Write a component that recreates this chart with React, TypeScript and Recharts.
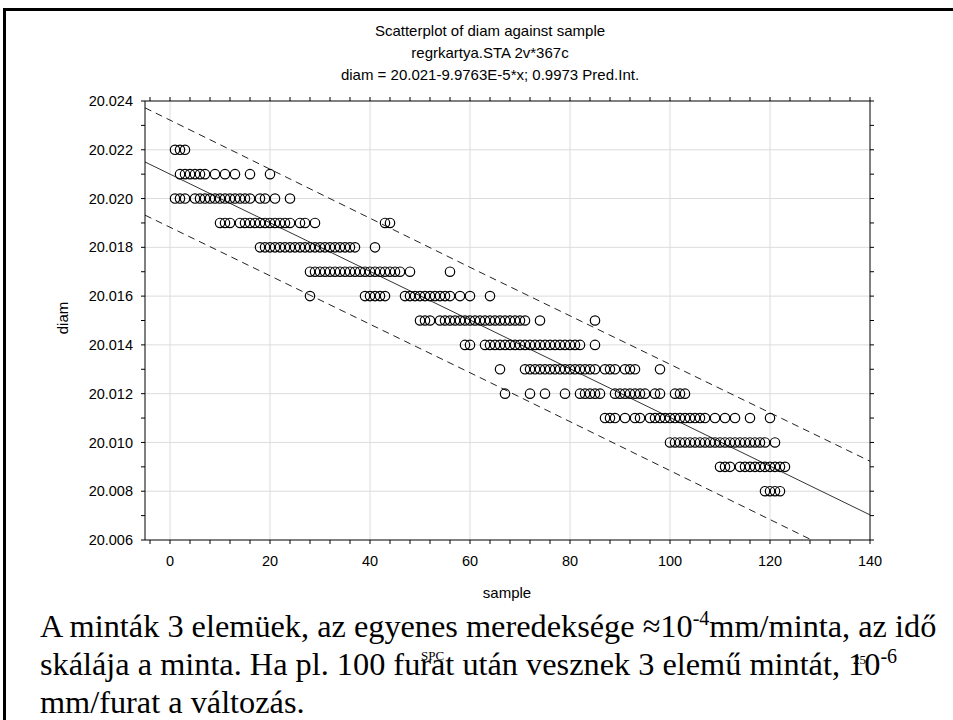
import React from "react";
import {
  ComposedChart,
  Scatter,
  Line,
  XAxis,
  YAxis,
  CartesianGrid,
} from "recharts";

// ---- data ----
const diamLevels = [
  20.022, 20.021, 20.02, 20.019, 20.018, 20.017, 20.016, 20.015, 20.014,
  20.013, 20.012, 20.011, 20.01, 20.009, 20.008,
];
const s22 = [1, 2, 3];
const s21 = [2, 3, 4, 5, 6, 7, 9, 11, 13, 16, 20];
const s20 = [1, 2, 3, 5, 6, 7, 8, 9, 10, 11, 12, 13, 14, 15, 16, 18, 19, 21, 24];
const s19 = [10, 11, 12, 14, 15, 16, 17, 18, 19, 20, 21, 22, 23, 24, 26, 27, 29, 43, 44];
const s18 = [18, 19, 20, 21, 22, 23, 24, 25, 26, 27, 28, 29, 30, 31, 32, 33, 34, 35, 36, 37, 41];
const s17 = [28, 29, 30, 31, 32, 33, 34, 35, 36, 37, 38, 39, 40, 41, 42, 43, 44, 45, 46, 48, 56];
const s16 = [28, 39, 40, 41, 42, 43, 47, 48, 49, 50, 51, 52, 53, 54, 55, 56, 58, 60, 64];
const s15 = [50, 51, 52, 54, 55, 56, 57, 58, 59, 60, 61, 62, 63, 64, 65, 66, 67, 68, 69, 70, 71, 74, 85];
const s14 = [59, 60, 63, 64, 65, 66, 67, 68, 69, 70, 71, 72, 73, 74, 75, 76, 77, 78, 79, 80, 81, 82, 85];
const s13 = [66, 71, 72, 73, 74, 75, 76, 77, 78, 79, 80, 81, 82, 83, 84, 85, 87, 88, 89, 91, 92, 93, 98];
const s12 = [67, 72, 75, 79, 82, 83, 84, 85, 86, 89, 90, 91, 92, 93, 94, 95, 97, 98, 101, 102, 103];
const s11 = [87, 88, 89, 91, 93, 94, 96, 97, 98, 99, 100, 101, 102, 103, 104, 105, 106, 107, 109, 111, 113, 116, 120];
const s10 = [100, 101, 102, 103, 104, 105, 106, 107, 108, 109, 110, 111, 112, 113, 114, 115, 116, 117, 118, 119, 121];
const s9 = [110, 111, 112, 114, 115, 116, 117, 118, 119, 120, 121, 122, 123];
const s8 = [119, 120, 121, 122];
const samplesByLevel = [s22, s21, s20, s19, s18, s17, s16, s15, s14, s13, s12, s11, s10, s9, s8];

// regression line and 0.9973 prediction interval (read at x = -5, 62, 140)
const bandX = [-5, 62, 140];
const fitY = [20.0215, 20.01482, 20.00703];
const upperY = [20.02372, 20.01698, 20.00923];
const lowerY = [20.01932, 20.01266, 20.00483];

const xTicks = [-4, 0, 4, 8, 12, 16, 20, 24, 28, 32, 36, 40, 44, 48, 52, 56, 60, 64, 68, 72, 76, 80, 84, 88, 92, 96, 100, 104, 108, 112, 116, 120, 124, 128, 132, 136, 140];
const xMajor = [0, 20, 40, 60, 80, 100, 120];
const yTicks = [20.006, 20.007, 20.008, 20.009, 20.01, 20.011, 20.012, 20.013, 20.014, 20.015, 20.016, 20.017, 20.018, 20.019, 20.02, 20.021, 20.022, 20.023, 20.024];
const yMajor = [20.008, 20.01, 20.012, 20.014, 20.016, 20.018, 20.02, 20.022];

const titleLines = [
  "Scatterplot of diam against sample",
  "regrkartya.STA 2v*367c",
  "diam = 20.021-9.9763E-5*x; 0.9973 Pred.Int.",
];

// ---- tables built from the arrays ----
const points = diamLevels.flatMap((d, i) =>
  samplesByLevel[i].map((s) => ({ x: s, y: d }))
);
const fitData = bandX.map((x, i) => ({ x, y: fitY[i] }));
const upperData = bandX.map((x, i) => ({ x, y: upperY[i] }));
const lowerData = bandX.map((x, i) => ({ x, y: lowerY[i] }));

const SANS = "'Liberation Sans', Arial, sans-serif";
const SERIF = "'Liberation Serif', 'Times New Roman', serif";

const XTick = (props: any) => {
  const { x, y, payload } = props;
  if (Math.round(payload.value) % 20 !== 0) return <g />;
  return (
    <text x={x} y={y} dy="0.71em" textAnchor="middle" fontSize={14.5} fontFamily={SANS} fill="#000">
      {payload.value}
    </text>
  );
};

const YTick = (props: any) => {
  const { x, y, payload } = props;
  if (Math.round(payload.value * 1000) % 2 !== 0) return <g />;
  return (
    <text x={x} y={y} dy="0.355em" textAnchor="end" fontSize={14.5} fontFamily={SANS} fill="#000">
      {payload.value.toFixed(3)}
    </text>
  );
};

const Empty = () => <g />;

const Ring = (props: any) => {
  const { cx, cy } = props;
  if (cx == null || cy == null) return <g />;
  return <circle cx={cx} cy={cy} r={4.7} fill="none" stroke="#000" strokeWidth={1.2} />;
};

export default function App() {
  return (
    <div
      style={{
        position: "fixed",
        left: 0,
        top: 0,
        width: 953,
        height: 720,
        background: "#fff",
        overflow: "hidden",
      }}
    >
      <div
        style={{
          position: "absolute",
          left: 3,
          top: 8,
          width: 960,
          height: 720,
          borderTop: "3px solid #000",
          borderLeft: "3px solid #000",
        }}
      />
      {titleLines.map((t, i) => (
        <div
          key={i}
          style={{
            position: "absolute",
            left: 240,
            width: 500,
            top: 21 + i * 22,
            textAlign: "center",
            fontFamily: SANS,
            fontSize: 15,
            lineHeight: "19px",
            color: "#000",
          }}
        >
          {t}
        </div>
      ))}
      <div style={{ position: "absolute", left: 0, top: 0 }}>
        <ComposedChart
          width={953}
          height={600}
          margin={{ top: 96, right: 73, bottom: 30, left: 85 }}
        >
          <CartesianGrid
            xAxisId="b"
            yAxisId="l"
            stroke="#dcdcdc"
            strokeWidth={1}
            horizontalValues={yMajor}
            verticalValues={xMajor}
          />
          <XAxis
            xAxisId="b"
            type="number"
            dataKey="x"
            domain={[-5, 140]}
            allowDataOverflow
            ticks={xTicks}
            interval={0}
            tick={<XTick />}
            tickSize={4}
            tickMargin={12}
            stroke="#000"
            height={30}
          />
          <XAxis
            xAxisId="t"
            orientation="top"
            type="number"
            dataKey="x"
            domain={[-5, 140]}
            allowDataOverflow
            ticks={xTicks}
            interval={0}
            tick={<Empty />}
            tickSize={4}
            stroke="#000"
            height={5}
          />
          <YAxis
            yAxisId="l"
            type="number"
            dataKey="y"
            domain={[20.006, 20.024]}
            allowDataOverflow
            ticks={yTicks}
            interval={0}
            tick={<YTick />}
            tickSize={4}
            tickMargin={8}
            stroke="#000"
            width={60}
          />
          <YAxis
            yAxisId="r"
            orientation="right"
            type="number"
            dataKey="y"
            domain={[20.006, 20.024]}
            allowDataOverflow
            ticks={yTicks}
            interval={0}
            tick={<Empty />}
            tickSize={4}
            stroke="#000"
            width={10}
          />
          <Line
            data={fitData}
            xAxisId="t"
            yAxisId="r"
            dataKey="y"
            stroke="none"
            dot={false}
            activeDot={false}
            isAnimationActive={false}
            legendType="none"
          />
          <Line
            data={upperData}
            xAxisId="b"
            yAxisId="l"
            dataKey="y"
            type="linear"
            stroke="#222"
            strokeWidth={1}
            strokeDasharray="7 5"
            dot={false}
            activeDot={false}
            isAnimationActive={false}
          />
          <Line
            data={lowerData}
            xAxisId="b"
            yAxisId="l"
            dataKey="y"
            type="linear"
            stroke="#222"
            strokeWidth={1}
            strokeDasharray="7 5"
            dot={false}
            activeDot={false}
            isAnimationActive={false}
          />
          <Line
            data={fitData}
            xAxisId="b"
            yAxisId="l"
            dataKey="y"
            type="linear"
            stroke="#333"
            strokeWidth={1}
            dot={false}
            activeDot={false}
            isAnimationActive={false}
          />
          <Scatter
            data={points}
            xAxisId="b"
            yAxisId="l"
            dataKey="y"
            shape={<Ring />}
            isAnimationActive={false}
          />
        </ComposedChart>
      </div>
      <div
        style={{
          position: "absolute",
          left: 62,
          top: 318,
          transform: "translate(-50%, -50%) rotate(-90deg)",
          fontFamily: SANS,
          fontSize: 15,
          color: "#000",
          whiteSpace: "nowrap",
        }}
      >
        diam
      </div>
      <div
        style={{
          position: "absolute",
          left: 507,
          top: 592,
          transform: "translate(-50%, -50%)",
          fontFamily: SANS,
          fontSize: 15,
          color: "#000",
          whiteSpace: "nowrap",
        }}
      >
        sample
      </div>
      <div
        style={{
          position: "absolute",
          left: 40,
          top: 609,
          width: 910,
          fontFamily: SERIF,
          fontSize: 32.3,
          lineHeight: "34px",
          color: "#000",
          whiteSpace: "nowrap",
        }}
      >
        <div>
          A minták 3 elemüek, az egyenes meredeksége ≈10
          <span style={{ fontSize: "0.62em", position: "relative", top: "-0.6em" }}>-4</span>
          mm/minta, az idő
        </div>
        <div>
          skálája a minta. Ha pl. 100 furat után vesznek 3 elemű mintát, 10
          <span style={{ fontSize: "0.62em", position: "relative", top: "-0.6em" }}>-6</span>
        </div>
        <div>mm/furat a változás.</div>
      </div>
      <div
        style={{
          position: "absolute",
          left: 421,
          top: 648,
          fontFamily: SERIF,
          fontSize: 13,
          color: "#000",
        }}
      >
        SPC
      </div>
      <div
        style={{
          position: "absolute",
          left: 853,
          top: 652,
          fontFamily: SERIF,
          fontSize: 13,
          color: "#000",
        }}
      >
        25
      </div>
    </div>
  );
}
